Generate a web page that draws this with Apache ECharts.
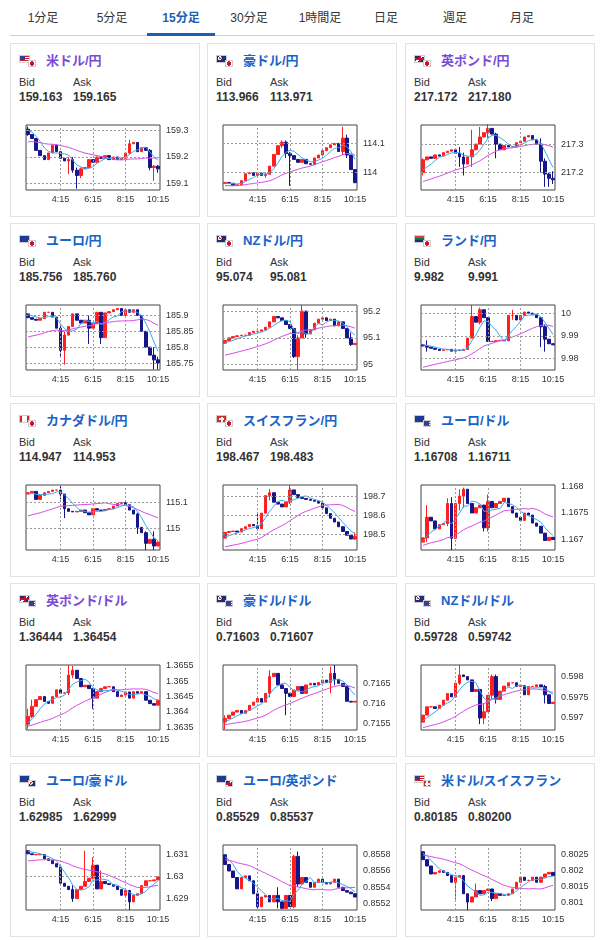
<!DOCTYPE html>
<html><head><meta charset="utf-8">
<script src="https://cdn.jsdelivr.net/npm/echarts@6/dist/echarts.min.js"></script>
<style>
body{margin:0;background:#fff;font-family:"Liberation Sans",Arial,"Noto Sans CJK JP",sans-serif;width:604px;height:940px;position:relative;overflow:hidden}
.tab{position:absolute;top:8px;font-size:12px;color:#333;transform:translateX(-50%);white-space:nowrap}
.tab.on{color:#1a5fb4;font-weight:bold}
.card{position:absolute;width:188px;height:172px;border:1px solid #e2e2e2;background:#fff}
.ttl{position:absolute;left:35px;top:6px;font-size:13px;font-weight:bold;white-space:nowrap}
.lb{position:absolute;top:32px;font-size:11px;color:#333}
.val{position:absolute;top:46px;font-size:12px;font-weight:bold;color:#333}
.f1{position:absolute;left:8px;top:11px;width:11px;height:8px;border:1px solid #ccc;box-sizing:border-box}
.f2{position:absolute;left:17px;top:16px;width:8px;height:7px;border:1px solid #ccc;box-sizing:border-box}
.ch{position:absolute;left:0;top:72px;width:190px;height:100px}
</style></head><body>
<div id="root"></div>
<script>
const tabLabels=["1分足","5分足","15分足","30分足","1時間足","日足","週足","月足"];
const tabX=[43,112,181,249,320,386,455,522];
const timeLabels=["2:15","2:30","2:45","3:00","3:15","3:30","3:45","4:00","4:15","4:30","4:45","5:00","5:15","5:30","5:45","6:00","6:15","6:30","6:45","7:00","7:15","7:30","7:45","8:00","8:15","8:30","8:45","9:00","9:15","9:30","9:45","10:00","10:15"];
const shownTimes=["4:15","6:15","8:15","10:15"];

const pairNames=["米ドル/円","豪ドル/円","英ポンド/円","ユーロ/円","NZドル/円","ランド/円","カナダドル/円","スイスフラン/円","ユーロ/ドル","英ポンド/ドル","豪ドル/ドル","NZドル/ドル","ユーロ/豪ドル","ユーロ/英ポンド","米ドル/スイスフラン"];
const bids=["159.163","113.966","217.172","185.756","95.074","9.982","114.947","198.467","1.16708","1.36444","0.71603","0.59728","1.62985","0.85529","0.80185"];
const asks=["159.165","113.971","217.180","185.760","95.081","9.991","114.953","198.483","1.16711","1.36454","0.71607","0.59742","1.62999","0.85537","0.80200"];
const visited=[true,false,true,false,false,false,false,false,false,true,false,false,false,false,false];
const flagA=["US","AU","GB","EU","NZ","ZA","CA","CH","EU","GB","AU","NZ","EU","EU","US"];
const flagB=["JP","JP","JP","JP","JP","JP","JP","JP","US","US","US","US","AU","GB","CH"];

const yTicks=[["159.1","159.2","159.3"],["114","114.1"],["217.2","217.3"],["185.75","185.8","185.85","185.9"],["95","95.1","95.2"],["9.98","9.99","10"],["115","115.1"],["198.5","198.6","198.7"],["1.167","1.1675","1.168"],["1.3635","1.364","1.3645","1.365","1.3655"],["0.7155","0.716","0.7165"],["0.597","0.5975","0.598"],["1.629","1.63","1.631"],["0.8552","0.8554","0.8556","0.8558"],["0.801","0.8015","0.802","0.8025"]];
const yMin=[159.075,113.94,217.139,185.728,94.98,9.9749,114.92,198.417,1.1668,1.36341,0.71533,0.59671,1.62848,0.85512,0.80077];
const yMax=[159.321,114.163,217.367,185.933,95.223,10.0036,115.164,198.761,1.16803,1.36553,0.71696,0.59828,1.63144,0.85592,0.80281];
const firstOpen=[159.305,113.962,217.20,185.905,95.08,9.986,115.13,198.48,1.16695,1.3636,0.71553,0.5969,1.63118,0.8558,0.8026];
const longMaStart=[159.256,113.954,217.165,185.829,95.033,9.9756,115.043,198.43,1.16688,1.36352,0.71546,0.59675,1.6307,0.85574,0.8025];

const closeUSDJPY=[159.285,159.27,159.225,159.205,159.19,159.215,159.245,159.22,159.195,159.185,159.19,159.15,159.13,159.155,159.16,159.19,159.18,159.20,159.195,159.205,159.19,159.20,159.19,159.195,159.215,159.25,159.255,159.22,159.235,159.225,159.16,159.165,159.155];
const closeAUDJPY=[113.966,113.963,113.955,113.958,113.972,113.996,113.999,113.99,113.998,113.99,113.994,114.022,114.062,114.092,114.104,114.065,114.058,114.045,114.035,114.045,114.03,114.028,114.05,114.06,114.075,114.085,114.095,114.10,114.072,114.118,114.06,114.01,113.965];
const closeGBPJPY=[217.245,217.255,217.25,217.262,217.258,217.27,217.275,217.28,217.268,217.255,217.23,217.255,217.28,217.30,217.325,217.34,217.355,217.335,217.30,217.28,217.295,217.29,217.29,217.305,217.31,217.325,217.33,217.315,217.30,217.24,217.195,217.18,217.175];
const closeEURJPY=[185.893,185.888,185.885,185.89,185.91,185.91,185.895,185.86,185.79,185.838,185.865,185.905,185.885,185.876,185.885,185.86,185.875,185.91,185.83,185.908,185.912,185.918,185.922,185.9,185.918,185.91,185.918,185.9,185.85,185.8,185.775,185.76,185.75];
const closeNZDJPY=[95.09,95.10,95.105,95.108,95.11,95.11,95.12,95.125,95.125,95.13,95.14,95.16,95.18,95.175,95.165,95.15,95.135,95.03,95.10,95.20,95.115,95.13,95.155,95.17,95.175,95.165,95.17,95.145,95.16,95.135,95.10,95.075,95.08];
const closeZARJPY=[9.9855,9.985,9.9845,9.984,9.9835,9.9838,9.984,9.9832,9.9837,9.9835,9.984,9.989,9.9985,9.996,10.0015,9.998,9.9875,9.9875,9.9878,9.988,9.9878,9.999,9.999,9.997,9.999,10.0005,10.0,9.9995,9.998,9.994,9.9885,9.9865,9.986];
const closeCADJPY=[115.135,115.14,115.11,115.125,115.135,115.14,115.145,115.145,115.13,115.075,115.065,115.063,115.065,115.07,115.06,115.052,115.075,115.07,115.068,115.072,115.075,115.085,115.095,115.098,115.09,115.07,115.055,115.005,114.985,114.945,114.96,114.935,114.95];
const closeCHFJPY=[198.51,198.515,198.517,198.512,198.53,198.54,198.552,198.545,198.53,198.612,198.705,198.72,198.67,198.66,198.645,198.67,198.735,198.71,198.695,198.69,198.685,198.68,198.675,198.665,198.64,198.61,198.585,198.565,198.54,198.515,198.495,198.475,198.49];
const closeEURUSD=[1.16703,1.16742,1.16735,1.1672,1.16728,1.1673,1.16768,1.16702,1.16768,1.16782,1.16795,1.16768,1.1675,1.1676,1.16765,1.16722,1.16772,1.1676,1.16768,1.16772,1.16778,1.16762,1.1675,1.16742,1.16736,1.1675,1.16746,1.16731,1.16725,1.16712,1.16698,1.16704,1.167];
const closeGBPUSD=[1.36385,1.36418,1.3644,1.3645,1.36434,1.36428,1.3645,1.36472,1.36461,1.36462,1.3652,1.36536,1.36509,1.36482,1.36487,1.36476,1.36445,1.36466,1.36476,1.36482,1.36482,1.36466,1.3645,1.36455,1.36465,1.36445,1.36466,1.36461,1.36466,1.36438,1.36427,1.36422,1.36438];
const closeAUDUSD=[0.71562,0.7157,0.71578,0.71582,0.71575,0.71582,0.71595,0.71603,0.71612,0.71603,0.71625,0.71667,0.71675,0.71646,0.71637,0.71625,0.71617,0.71633,0.71642,0.71625,0.71646,0.7165,0.71646,0.71652,0.71658,0.71652,0.71675,0.7166,0.7165,0.71642,0.71605,0.71603,0.71605];
const closeNZDUSD=[0.59707,0.59727,0.59727,0.59723,0.59731,0.59743,0.59759,0.59751,0.59784,0.59804,0.598,0.59792,0.59764,0.59769,0.597,0.59715,0.59755,0.598,0.59745,0.59765,0.59777,0.59785,0.59785,0.59776,0.59778,0.59756,0.59776,0.59776,0.5978,0.59776,0.59756,0.59735,0.59738];
const closeEURAUD=[1.63104,1.631,1.631,1.631,1.63081,1.63074,1.63059,1.63044,1.6297,1.62956,1.62941,1.629,1.62941,1.62956,1.62978,1.62993,1.63052,1.62944,1.62978,1.62968,1.62964,1.62956,1.62941,1.62915,1.62937,1.62885,1.62915,1.62922,1.62959,1.62981,1.62981,1.62985,1.62999];
const closeEURGBP=[0.85568,0.8556,0.85552,0.85538,0.85552,0.85554,0.85548,0.85532,0.85516,0.85528,0.8553,0.85522,0.8553,0.85522,0.85514,0.8553,0.85516,0.85578,0.85544,0.85552,0.85546,0.8554,0.85546,0.8555,0.85546,0.85544,0.85546,0.8555,0.8554,0.85536,0.85534,0.85532,0.85528];
const closeUSDCHF=[0.80235,0.80215,0.8019,0.80195,0.802,0.80195,0.80185,0.80164,0.8018,0.80185,0.80128,0.80102,0.80118,0.80138,0.80128,0.80138,0.80143,0.80113,0.80128,0.80123,0.80123,0.80128,0.80143,0.80164,0.8018,0.8017,0.8017,0.8018,0.80164,0.8018,0.8019,0.80195,0.80185];

// wicks: [candle index, low, high]
const wickUSDJPY=[[0,159.28,159.315],[10,159.135,159.2],[11,159.14,159.2],[12,159.08,159.16],[13,159.12,159.16],[25,159.21,159.265],[30,159.15,159.23],[31,159.11,159.17],[32,159.14,159.17]];
const wickAUDJPY=[[10,113.982,114.0],[14,114.085,114.11],[15,114.05,114.11],[16,113.954,114.07],[29,114.06,114.157],[30,114.05,114.13]];
const wickGBPJPY=[[0,217.19,217.25],[9,217.22,217.29],[10,217.19,217.27],[12,217.22,217.35],[14,217.3,217.36],[16,217.32,217.37],[18,217.25,217.34],[29,217.2,217.32],[30,217.15,217.25],[31,217.15,217.2],[32,217.16,217.205]];
const wickEURJPY=[[8,185.77,185.87],[9,185.745,185.85],[15,185.81,185.9],[18,185.81,185.91],[31,185.73,185.8],[32,185.73,185.77]];
const wickNZDJPY=[[17,95.025,95.12],[18,94.98,95.11],[19,95.1,95.223],[20,95.1,95.2],[31,95.07,95.12]];
const wickZARJPY=[[1,9.983,9.988],[12,9.994,10.0036],[14,9.995,10.0025],[22,9.997,10.0015],[29,9.985,9.998],[30,9.983,9.995]];
const wickCADJPY=[[8,115.11,115.16],[9,115.04,115.13],[27,114.98,115.06],[29,114.92,114.99],[31,114.92,114.99]];
const wickCHFJPY=[[8,198.52,198.61],[11,198.68,198.74],[16,198.66,198.76],[32,198.47,198.51]];
const wickEURUSD=[[1,1.16695,1.16765],[6,1.16725,1.16778],[7,1.1668,1.1678],[9,1.16755,1.16795],[10,1.1676,1.16798],[15,1.16715,1.16765],[16,1.16715,1.16785]];
const wickGBPUSD=[[0,1.36345,1.3641],[1,1.3638,1.3644],[10,1.36455,1.36553],[11,1.3651,1.3655],[16,1.3641,1.36475]];
const wickAUDUSD=[[0,0.71535,0.7157],[11,0.71615,0.71683],[15,0.7157,0.71635],[26,0.71625,0.71692],[27,0.71645,0.71696]];
const wickNZDUSD=[[9,0.5978,0.59828],[14,0.59685,0.5977],[15,0.59685,0.59735],[17,0.59745,0.59805],[18,0.59735,0.59805],[30,0.59735,0.5978]];
const wickEURAUD=[[11,1.62885,1.6296],[14,1.62965,1.63118],[16,1.62988,1.63088],[18,1.6296,1.63028],[25,1.62848,1.62915]];
const wickEURGBP=[[8,0.85512,0.85536],[13,0.85514,0.8554],[17,0.85514,0.8558],[18,0.8554,0.85584]];
const wickUSDCHF=[[8,0.8011,0.8018],[11,0.80077,0.80125],[13,0.80128,0.8016],[17,0.80105,0.8014]];

const closes=[closeUSDJPY,closeAUDJPY,closeGBPJPY,closeEURJPY,closeNZDJPY,closeZARJPY,closeCADJPY,closeCHFJPY,closeEURUSD,closeGBPUSD,closeAUDUSD,closeNZDUSD,closeEURAUD,closeEURGBP,closeUSDCHF];
const wicks=[wickUSDJPY,wickAUDJPY,wickGBPJPY,wickEURJPY,wickNZDJPY,wickZARJPY,wickCADJPY,wickCHFJPY,wickEURUSD,wickGBPUSD,wickAUDUSD,wickNZDUSD,wickEURAUD,wickEURGBP,wickUSDCHF];

const flagCss={
 US:"linear-gradient(#3c3b8e,#3c3b8e) 0 0/5px 4px no-repeat, repeating-linear-gradient(#c8202c 0 1px,#fff 1px 2px)",
 JP:"radial-gradient(circle,#d0102a 0 2px,#fff 2.5px)",
 AU:"radial-gradient(circle at 30% 35%,#e22 0 1px,#fff 1px 1.8px,#1a2f7a 2px)",
 NZ:"radial-gradient(circle at 30% 35%,#e22 0 1px,#fff 1px 1.8px,#1a2f7a 2px)",
 GB:"linear-gradient(#c8102e,#c8102e) center/100% 2px no-repeat, linear-gradient(#c8102e,#c8102e) center/2px 100% no-repeat, linear-gradient(135deg,#1a2f7a 40%,#fff 40% 60%,#1a2f7a 60%)",
 EU:"#1f3a93",
 ZA:"linear-gradient(#e03c31 33%,#007a4d 33% 66%,#1a2f7a 66%)",
 CA:"linear-gradient(90deg,#d52b1e 25%,#fff 25% 75%,#d52b1e 75%)",
 CH:"linear-gradient(#fff,#fff) center/2px 5px no-repeat, linear-gradient(#fff,#fff) center/5px 2px no-repeat, #d52b1e"
};

const root=document.getElementById('root');
tabLabels.forEach((t,i)=>{const d=document.createElement('div');d.className='tab'+(i===2?' on':'');d.style.left=tabX[i]+'px';d.textContent=t;root.appendChild(d);});
root.insertAdjacentHTML('beforeend','<div style="position:absolute;left:10px;top:35px;width:584px;height:1px;background:#cfcfcf"></div><div style="position:absolute;left:147px;top:33px;width:68px;height:3px;background:#1a5fb4"></div>');

const colX=[10,207,405], rowY=[43,223,403,583,763];
pairNames.forEach((name,k)=>{
  const card=document.createElement('div');card.className='card';
  card.style.left=colX[k%3]+'px';card.style.top=rowY[Math.floor(k/3)]+'px';
  card.innerHTML=`<div class="f1" style="background:${flagCss[flagA[k]]}"></div><div class="f2" style="background:${flagCss[flagB[k]]}"></div>
  <div class="ttl" style="color:${visited[k]?'#7b4bd6':'#1a63c8'}">${name}</div>
  <div class="lb" style="left:8px">Bid</div><div class="lb" style="left:62px">Ask</div>
  <div class="val" style="left:8px">${bids[k]}</div><div class="val" style="left:62px">${asks[k]}</div>
  <div class="ch"></div>`;
  root.appendChild(card);
  const c=closes[k];
  const ohlc=c.map((cl,i)=>{const o=i===0?firstOpen[k]:c[i-1];let lo=Math.min(o,cl),hi=Math.max(o,cl);
    wicks[k].forEach(w=>{if(w[0]===i){lo=Math.min(lo,w[1]);hi=Math.max(hi,w[2]);}});return [o,cl,lo,hi];});
  const ma=(n,seed)=>c.map((_,i)=>{let s=0;for(let j=i-n+1;j<=i;j++)s+=j>=0?c[j]:seed;return +(s/n).toFixed(6);});
  const shortMa=ma(5,firstOpen[k]), longMa=ma(20,longMaStart[k]);
  const ticks=yTicks[k];
  const chart=echarts.init(card.querySelector('.ch'));
  const dash={type:[2,2],color:'#9a9a9a',width:1};
  chart.setOption({
    animation:false,
    grid:{left:15,top:9,width:134,height:65,show:true,borderColor:'#444',borderWidth:1,backgroundColor:'#fff'},
    xAxis:{type:'category',data:timeLabels,boundaryGap:true,axisLine:{show:false},axisTick:{show:false},
      axisLabel:{interval:(i)=>shownTimes.includes(timeLabels[i]),fontSize:9,color:'#333',margin:5,fontFamily:'Liberation Sans'}},
    yAxis:{type:'value',position:'right',min:yMin[k],max:yMax[k],scale:true,splitLine:{show:false},axisLine:{show:false},axisTick:{show:false},
      axisLabel:{customValues:ticks.map(Number),fontSize:9,color:'#333',margin:6,fontFamily:'Liberation Sans',
        formatter:v=>{const t=ticks.find(s=>Math.abs(Number(s)-v)<1e-9);return t===undefined?'':t;}}},
    series:[
      {type:'candlestick',data:ohlc,barWidth:3,
       itemStyle:{color:'#ff1f1f',color0:'#16168a',borderColor:'#ff1f1f',borderColor0:'#16168a',borderWidth:1},
       markLine:{silent:true,symbol:'none',label:{show:false},lineStyle:dash,animation:false,
         data:[...ticks.map(t=>({yAxis:Number(t)})),...shownTimes.slice(0,3).map(t=>({xAxis:t}))]}},
      {type:'line',data:longMa,symbol:'none',lineStyle:{color:'#d94ce8',width:1},z:3},
      {type:'line',data:shortMa,symbol:'none',lineStyle:{color:'#3aa8ee',width:1},z:4}
    ]
  });
});
</script></body></html>
